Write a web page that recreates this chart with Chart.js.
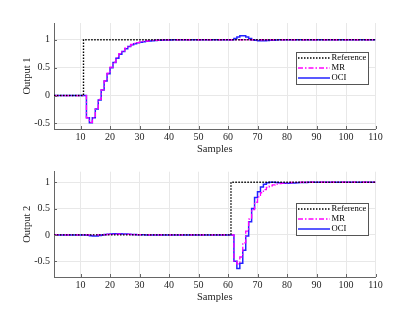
<!DOCTYPE html>
<html>
<head>
<meta charset="utf-8">
<script src="https://cdn.jsdelivr.net/npm/chart.js@4.4.1/dist/chart.umd.min.js"></script>
<style>
  html, body { margin: 0; padding: 0; background: #fff; }
  #wrap { position: relative; width: 415px; height: 312px; }
  canvas { position: absolute; left: 0; }
</style>
</head>
<body>
<div id="wrap">
  <canvas id="c1" width="415" height="156" style="top:0"></canvas>
  <canvas id="c2" width="415" height="156" style="top:156px"></canvas>
</div>
<script>
// samples run 1..110, one value per sample
const xTicks = [10, 20, 30, 40, 50, 60, 70, 80, 90, 100, 110];
const yTicks = [-0.5, 0, 0.5, 1];
const seriesNames = ['Reference', 'MR', 'OCI'];

const ref1 = [
  0, 0, 0, 0, 0, 0, 0, 0, 0, 0,
  1, 1, 1, 1, 1, 1, 1, 1, 1, 1,
  1, 1, 1, 1, 1, 1, 1, 1, 1, 1,
  1, 1, 1, 1, 1, 1, 1, 1, 1, 1,
  1, 1, 1, 1, 1, 1, 1, 1, 1, 1,
  1, 1, 1, 1, 1, 1, 1, 1, 1, 1,
  1, 1, 1, 1, 1, 1, 1, 1, 1, 1,
  1, 1, 1, 1, 1, 1, 1, 1, 1, 1,
  1, 1, 1, 1, 1, 1, 1, 1, 1, 1,
  1, 1, 1, 1, 1, 1, 1, 1, 1, 1,
  1, 1, 1, 1, 1, 1, 1, 1, 1, 1
];
const mr1 = [
  0, 0, 0, 0, 0, 0, 0, 0, 0, 0,
  0, -0.40, -0.48, -0.40, -0.23, -0.07, 0.10, 0.26, 0.40, 0.51,
  0.60, 0.68, 0.75, 0.80, 0.85, 0.885, 0.915, 0.935, 0.95, 0.96,
  0.97, 0.977, 0.983, 0.987, 0.99, 0.993, 0.995, 0.996, 0.997, 0.998,
  0.999, 1, 1, 1, 1, 1, 1, 1, 1, 1,
  1, 1, 1, 1, 1, 1, 1, 1, 1, 1,
  1, 1, 1, 1, 1, 1, 1, 1, 1, 1,
  1, 1, 1, 1, 1, 1, 1, 1, 1, 1,
  1, 1, 1, 1, 1, 1, 1, 1, 1, 1,
  1, 1, 1, 1, 1, 1, 1, 1, 1, 1,
  1, 1, 1, 1, 1, 1, 1, 1, 1, 1
];
const oci1 = [
  0, 0, 0, 0, 0, 0, 0, 0, 0, 0,
  0, -0.40, -0.49, -0.40, -0.24, -0.08, 0.10, 0.26, 0.39, 0.50,
  0.59, 0.67, 0.74, 0.79, 0.84, 0.88, 0.91, 0.93, 0.945, 0.955,
  0.965, 0.973, 0.979, 0.984, 0.988, 0.991, 0.993, 0.995, 0.996, 0.997,
  0.998, 0.999, 1, 1, 1, 1, 1, 1, 1, 1,
  1, 1, 1, 1, 1, 1, 1, 1, 1, 1,
  1, 1.02, 1.05, 1.07, 1.07, 1.05, 1.02, 1.0, 0.99, 0.983,
  0.98, 0.982, 0.986, 0.99, 0.993, 0.996, 0.998, 1, 1, 1,
  1, 1, 1, 1, 1, 1, 1, 1, 1, 1,
  1, 1, 1, 1, 1, 1, 1, 1, 1, 1,
  1, 1, 1, 1, 1, 1, 1, 1, 1, 1
];

const ref2 = [
  0, 0, 0, 0, 0, 0, 0, 0, 0, 0,
  0, 0, 0, 0, 0, 0, 0, 0, 0, 0,
  0, 0, 0, 0, 0, 0, 0, 0, 0, 0,
  0, 0, 0, 0, 0, 0, 0, 0, 0, 0,
  0, 0, 0, 0, 0, 0, 0, 0, 0, 0,
  0, 0, 0, 0, 0, 0, 0, 0, 0, 0,
  1, 1, 1, 1, 1, 1, 1, 1, 1, 1,
  1, 1, 1, 1, 1, 1, 1, 1, 1, 1,
  1, 1, 1, 1, 1, 1, 1, 1, 1, 1,
  1, 1, 1, 1, 1, 1, 1, 1, 1, 1,
  1, 1, 1, 1, 1, 1, 1, 1, 1, 1
];
const mr2 = [
  0, 0, 0, 0, 0, 0, 0, 0, 0, 0,
  0, 0, 0, 0, 0, 0, 0.002, 0.005, 0.008, 0.01,
  0.011, 0.012, 0.012, 0.011, 0.01, 0.009, 0.008, 0.006, 0.005, 0.004,
  0.003, 0.002, 0.001, 0, 0, 0, 0, 0, 0, 0,
  0, 0, 0, 0, 0, 0, 0, 0, 0, 0,
  0, 0, 0, 0, 0, 0, 0, 0, 0, 0,
  0, -0.50, -0.55, -0.42, -0.15, 0.07, 0.30, 0.48, 0.62, 0.72,
  0.80, 0.86, 0.90, 0.93, 0.95, 0.965, 0.975, 0.983, 0.988, 0.992,
  0.995, 0.997, 0.998, 0.999, 1, 1, 1, 1, 1, 1,
  1, 1, 1, 1, 1, 1, 1, 1, 1, 1,
  1, 1, 1, 1, 1, 1, 1, 1, 1, 1
];
const oci2 = [
  0, 0, 0, 0, 0, 0, 0, 0, 0, 0,
  0, -0.005, -0.015, -0.02, -0.02, -0.012, 0, 0.008, 0.014, 0.018,
  0.02, 0.02, 0.02, 0.018, 0.015, 0.012, 0.009, 0.006, 0.004, 0.002,
  0.001, 0, 0, 0, 0, 0, 0, 0, 0, 0,
  0, 0, 0, 0, 0, 0, 0, 0, 0, 0,
  0, 0, 0, 0, 0, 0, 0, 0, 0, 0,
  0, -0.50, -0.64, -0.54, -0.29, -0.02, 0.25, 0.50, 0.71, 0.82,
  0.91, 0.96, 0.99, 1.0, 1.0, 0.995, 0.99, 0.985, 0.982, 0.982,
  0.984, 0.987, 0.99, 0.993, 0.995, 0.997, 0.998, 0.999, 1, 1,
  1, 1, 1, 1, 1, 1, 1, 1, 1, 1,
  1, 1, 1, 1, 1, 1, 1, 1, 1, 1
];

const FONT = "'Liberation Serif', 'DejaVu Serif', serif";

function toPoints(arr){
  return arr.map((v, i) => ({ x: i + 1, y: v }));
}

// short tick marks pointing into the plot, like the original figure
const innerTicks = {
  id: 'innerTicks',
  afterDraw(chart){
    const ctx = chart.ctx, area = chart.chartArea;
    const xs = chart.scales.x, ys = chart.scales.y;
    ctx.save();
    ctx.strokeStyle = '#666';
    ctx.lineWidth = 1;
    ctx.beginPath();
    xs.ticks.forEach(t => {
      const px = Math.round(xs.getPixelForValue(t.value)) + 0.5;
      ctx.moveTo(px, area.bottom);
      ctx.lineTo(px, area.bottom - 3);
    });
    ys.ticks.forEach(t => {
      const py = Math.round(ys.getPixelForValue(t.value)) + 0.5;
      ctx.moveTo(area.left, py);
      ctx.lineTo(area.left + 3, py);
    });
    ctx.stroke();
    ctx.restore();
  }
};

// draws the boxed legend inside the plot, near the right edge
const boxLegend = {
  id: 'boxLegend',
  afterDraw(chart, args, opts){
    const ctx = chart.ctx, area = chart.chartArea;
    const w = 72, h = 32;
    const x0 = Math.round(area.right - opts.right - w), y0 = Math.round(area.top + opts.top);
    ctx.save();
    ctx.fillStyle = '#fff';
    ctx.fillRect(x0, y0, w, h);
    ctx.strokeStyle = '#555';
    ctx.lineWidth = 1;
    ctx.strokeRect(x0 + 0.5, y0 + 0.5, w, h);
    ctx.font = '8.6px ' + FONT;
    ctx.textBaseline = 'middle';
    chart.data.datasets.forEach((ds, i) => {
      const y = y0 + 6 + i * 10;
      ctx.strokeStyle = ds.borderColor;
      ctx.lineWidth = ds.borderWidth;
      ctx.setLineDash(ds.borderDash || []);
      ctx.beginPath();
      ctx.moveTo(x0 + 2, y);
      ctx.lineTo(x0 + 34, y);
      ctx.stroke();
      ctx.setLineDash([]);
      ctx.fillStyle = '#000';
      ctx.fillText(ds.label, x0 + 35.5, y);
    });
    ctx.restore();
  }
};

function makeChart(id, ref, mr, oci, yMin, yMax, yLabel, padTop, padBottom, legendTop){
  return new Chart(document.getElementById(id), {
    type: 'line',
    data: {
      datasets: [
        { label: seriesNames[0], data: toPoints(ref), borderColor: '#000', borderWidth: 1.4,
          borderDash: [1.5, 1.5], stepped: true, pointRadius: 0, fill: false },
        { label: seriesNames[1], data: toPoints(mr), borderColor: '#ff00ff', borderWidth: 1.3,
          borderDash: [5, 2, 1.5, 2], stepped: true, pointRadius: 0, fill: false },
        { label: seriesNames[2], data: toPoints(oci), borderColor: '#2222ff', borderWidth: 1.5,
          stepped: true, pointRadius: 0, fill: false }
      ]
    },
    options: {
      responsive: false,
      animation: false,
      devicePixelRatio: 1,
      layout: { padding: { left: 0, right: 39.5, top: padTop, bottom: padBottom } },
      plugins: {
        legend: { display: false },
        tooltip: { enabled: false },
        boxLegend: { right: 7.5, top: legendTop }
      },
      scales: {
        x: {
          type: 'linear', min: 1, max: 110,
          afterBuildTicks: s => { s.ticks = xTicks.map(v => ({ value: v })); },
          afterFit: s => { s.height = 27; s.paddingLeft = 0; s.paddingRight = 0; },
          ticks: { color: '#262626', font: { family: FONT, size: 10 }, padding: 2, maxRotation: 0 },
          grid: { color: '#e8e8e8', drawTicks: false },
          border: { color: '#666', width: 1 },
          title: { display: true, text: 'Samples', color: '#262626',
                   font: { family: FONT, size: 10.5 }, padding: { top: 0, bottom: 0 } }
        },
        y: {
          type: 'linear', min: yMin, max: yMax,
          afterBuildTicks: s => { s.ticks = yTicks.map(v => ({ value: v })); },
          afterFit: s => { s.width = 54; s.paddingTop = 0; s.paddingBottom = 0; },
          ticks: { color: '#262626', font: { family: FONT, size: 10 }, padding: 4,
                   callback: v => String(v) },
          grid: { color: '#e8e8e8', drawTicks: false },
          border: { color: '#666', width: 1 },
          title: { display: true, text: yLabel, color: '#262626',
                   font: { family: FONT, size: 10.5 }, padding: { top: 21, bottom: 0 } }
        }
      }
    },
    plugins: [innerTicks, boxLegend]
  });
}

makeChart('c1', ref1, mr1, oci1, -0.6, 1.3, 'Output 1', 23, 0, 29);
makeChart('c2', ref2, mr2, oci2, -0.8, 1.2, 'Output 2', 15.7, 8, 31);
</script>
</body>
</html>
